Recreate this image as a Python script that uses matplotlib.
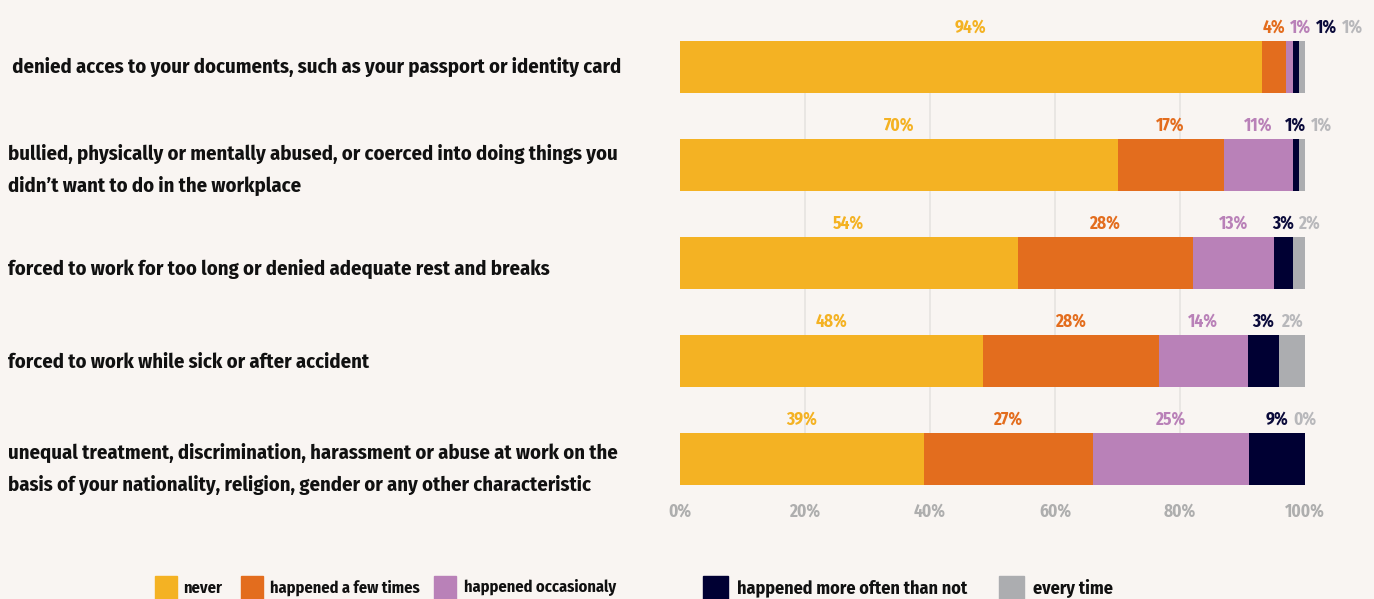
import matplotlib.pyplot as plt
from matplotlib.patches import Rectangle

# data
questions = [
    " denied acces to your documents, such as your passport or identity card",
    "bullied, physically or mentally abused, or coerced into doing things you\ndidn\u2019t want to do in the workplace",
    "forced to work for too long or denied adequate rest and breaks",
    "forced to work while sick or after accident",
    "unequal treatment, discrimination, harassment or abuse at work on the\nbasis of your nationality, religion, gender or any other characteristic",
]
categories = ["never", "happened a few times", "happened occasionaly",
              "happened more often than not", "every time"]
never = [94, 70, 54, 48.5, 39]
few_times = [4, 17, 28, 28.1, 27]
occasionaly = [1, 11, 13, 14.2, 25]
more_often = [1, 1, 3, 5.0, 9]
every_time = [1, 1, 2, 4.2, 0]
shown = [
    ["94%", "4%", "1%", "1%", "1%"],
    ["70%", "17%", "11%", "1%", "1%"],
    ["54%", "28%", "13%", "3%", "2%"],
    ["48%", "28%", "14%", "3%", "2%"],
    ["39%", "27%", "25%", "9%", "0%"],
]
ticks = [0, 20, 40, 60, 80, 100]

colors = ["#F4B223", "#E36D1E", "#B981B8", "#000033", "#ACADB0"]
label_colors = ["#F4B223", "#E36D1E", "#B981B8", "#0A0A3A", "#B8B8BB"]
bg = "#F9F5F2"
font = ["Fira Sans Condensed", "Roboto Condensed", "Roboto", "DejaVu Sans"]

series = [never, few_times, occasionaly, more_often, every_time]

fig = plt.figure(figsize=(13.74, 5.99), dpi=100, facecolor=bg)
W, H = 1374, 599
ax = fig.add_axes([680 / W, (H - 485) / H, 625 / W, 444 / H])
ax.set_facecolor(bg)
ax.set_xlim(0, 100)
ax.set_ylim(4.265, -0.265)
bar_h = 0.53

ax.vlines([20, 40, 60, 80], 0, 4, color="#E6E3E0", lw=1.2, zorder=0)

# baseline of the last text line, px below each bar's centre
text_base = [6, 27, 12, 7, 32]

n = len(questions)
for i in range(n):
    row = [s[i] for s in series]
    total = sum(row)
    left = 0
    prev_x = -100
    for j, v in enumerate(row):
        w = v / total * 100
        ax.barh(i, w, left=left, height=bar_h, color=colors[j], zorder=2)
        cx = left + w / 2
        x = max(cx, prev_x + 4.2)
        ax.text(x, i - bar_h / 2 - 0.135, shown[i][j], ha="center", va="center",
                color=label_colors[j], fontsize=12.5, fontweight="bold", family=font)
        prev_x = x
        left += w

    fig.text(8 / W, 1 - (67 + 98 * i + text_base[i]) / H,
             questions[i], ha="left", va="baseline", fontsize=14.8, fontweight="bold",
             family=font, color="#111111", linespacing=1.74)

ax.set_yticks([])
ax.set_xticks(ticks)
ax.set_xticklabels([f"{t}%" for t in ticks], color="#AEAEAE", fontsize=12.5,
                   fontweight="bold", family=font)
ax.tick_params(axis="x", length=0, pad=13)
for s in ax.spines.values():
    s.set_visible(False)

# legend
leg_x = [155, 241, 434, 703, 999]
leg_w = [22, 22, 22, 25, 25]
leg_gap = [28, 29, 30, 34, 34]
leg_fs = [11.8, 11.8, 11.8, 13, 13]
for k, name in enumerate(categories):
    fig.patches.append(Rectangle((leg_x[k] / W, 0), leg_w[k] / W, 23 / H,
                                 transform=fig.transFigure, color=colors[k]))
    fig.text((leg_x[k] + leg_gap[k]) / W, 11 / H, name, ha="left", va="center",
             fontsize=leg_fs[k], fontweight="bold", family=font, color="#111111")

fig.savefig("out.png", dpi=100, facecolor=bg)
